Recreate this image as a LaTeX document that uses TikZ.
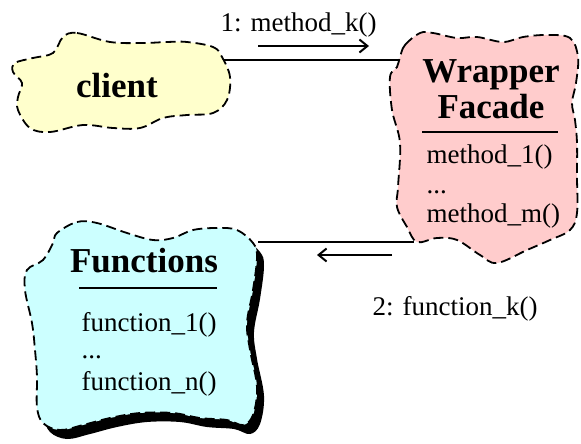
\documentclass[tikz,border=0pt]{standalone}
\usepackage{fontspec}
\setmainfont{Liberation Serif}
\usetikzlibrary{arrows.meta,shadows}
\definecolor{clientyellow}{HTML}{FFFFCC}
\definecolor{wrapperpink}{HTML}{FFCCCC}
\definecolor{funccyan}{HTML}{CCFFFF}
\tikzset{
  cloudline/.style={draw=black, line width=1.8pt, dash pattern=on 10pt off 5pt},
  msgline/.style={line width=2pt},
  msgarrow/.style={line width=2pt, -{Straight Barb[length=8pt,width=13pt]}},
  titletext/.style={font=\fontsize{35}{38}\selectfont\bfseries, anchor=base},
  bodytext/.style={font=\fontsize{27}{30}\selectfont, anchor=base west},
}
\begin{document}
\begin{tikzpicture}[x=1pt,y=-1pt]
  \useasboundingbox (0,0) rectangle (581,444);
  % clouds
  \draw[cloudline, fill=clientyellow] plot[smooth cycle, tension=0.6] coordinates {
    (63,37) (77,33) (110,42) (143,43) (167,42) (187,42) (213,47) (222,57)
    (230,77) (227,100) (213,113) (187,115) (163,118) (140,128) (113,128)
    (83,125) (50,132) (30,128) (18,110) (18,97) (22,83) (13,72) (15,63)
    (33,58) (53,53)};
  \draw[cloudline, fill=wrapperpink] plot[smooth cycle, tension=0.6] coordinates {
    (400,57) (405,45) (420,33) (433,33) (457,38) (477,37) (503,42) (523,37)
    (547,35) (570,38) (578,57) (576,83) (572,103) (575,120) (577,143)
    (577,177) (577,213) (570,230) (550,240) (527,250) (497,263) (480,255)
    (457,240) (437,238) (417,242) (407,227) (397,207) (398,187) (400,143)
    (392,110) (390,77) (397,67)};
  \draw[cloudline, fill=funccyan,
        drop shadow={opacity=1, fill=black, shadow xshift=7pt, shadow yshift=-9pt}]
    plot[smooth cycle, tension=0.6] coordinates {
    (57,233) (77,222) (97,223) (127,233) (153,240) (173,238) (193,230)
    (217,228) (237,230) (253,243) (257,257) (253,290) (247,323) (250,350)
    (257,387) (253,415) (243,425) (227,420) (200,418) (173,413) (140,413)
    (110,418) (83,425) (60,430) (43,423) (37,407) (37,377) (35,350)
    (32,323) (25,290) (27,270) (43,260) (53,243)};

  % texts
  \node[titletext] (client) at (117,97) {client};
  \node[titletext] (wrapper) at (491,82) {Wrapper};
  \node[titletext] (facade) at (491,118) {Facade};
  \draw[line width=1.4pt] (422,132) -- (558,132);
  \node[bodytext] (method1) at (423,163) {method\_1()};
  \node[bodytext] (wdots) at (423,193) {...};
  \node[bodytext] (methodm) at (423,222) {method\_m()};
  \node[titletext] (functions) at (144,272) {Functions};
  \draw[line width=1.4pt] (79,288) -- (217,288);
  \node[bodytext] (function1) at (78,331) {function\_1()};
  \node[bodytext] (fdots) at (78,358) {...};
  \node[bodytext] (functionn) at (78,390) {function\_n()};

  % messages
  \coordinate (clientout) at (223,60);
  \coordinate (wrapperin) at (399,60);
  \coordinate (funcin) at (258,242);
  \coordinate (wrapperout) at (414,242);
  \coordinate (callstart) at (258,46);
  \coordinate (callend) at (369,46);
  \coordinate (backstart) at (392,255);
  \coordinate (backend) at (317,255);
  \draw[msgline] (clientout) -- (wrapperin);
  \draw[msgline] (funcin) -- (wrapperout);
  \draw[msgarrow] (callstart) -- (callend);
  \draw[msgarrow] (backstart) -- (backend);
  \node[bodytext] (call) at (217,32) {1: method\_k()};
  \node[bodytext] (back) at (369,315) {2: function\_k()};
\end{tikzpicture}
\end{document}
